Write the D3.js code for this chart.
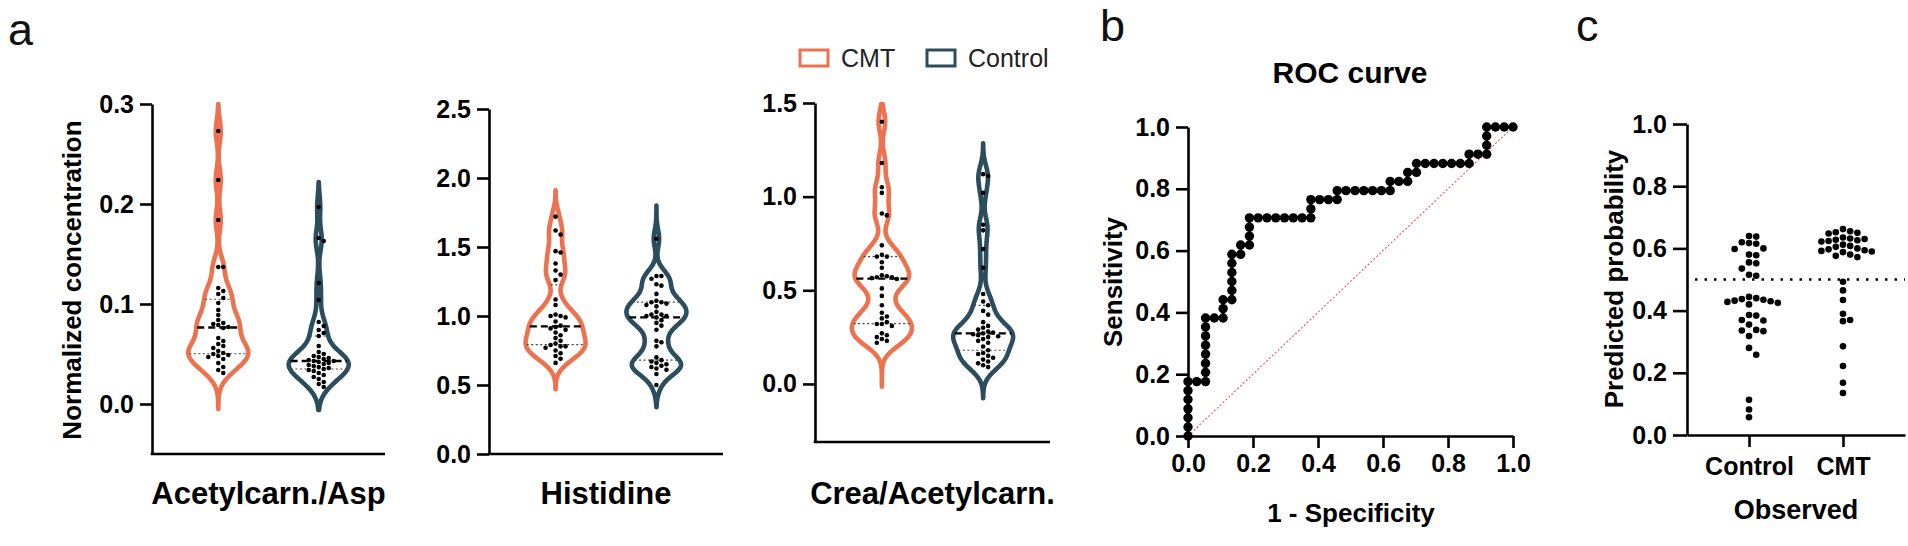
<!DOCTYPE html>
<html><head><meta charset="utf-8">
<script src="https://cdn.jsdelivr.net/npm/d3@7"></script>
<style>
body{margin:0;background:#fff;}
svg{display:block;font-family:"Liberation Sans",Arial,sans-serif;}
</style></head><body>
<svg id="chart" width="1908" height="546"></svg>
<script>
// ---------------- DATA ----------------
const groups = ["CMT", "Control"];
const metabolites = ["Acetylcarn./Asp", "Histidine", "Crea/Acetylcarn."];

const acetAspCMT = [0.273,0.224,0.184,0.137,0.137,0.116,0.113,0.110,0.106,0.101,0.094,0.089,0.084,0.081,0.080,0.079,0.077,0.076,0.066,0.063,0.060,0.058,0.056,0.053,0.051,0.050,0.049,0.048,0.047,0.045,0.041,0.037,0.034,0.031];
const acetAspControl = [0.197,0.166,0.163,0.121,0.104,0.082,0.078,0.074,0.071,0.068,0.058,0.052,0.050,0.048,0.047,0.046,0.045,0.044,0.043,0.043,0.042,0.041,0.040,0.039,0.038,0.037,0.036,0.035,0.034,0.033,0.031,0.029,0.027,0.025,0.022,0.020,0.017];
const histidineCMT = [1.72,1.62,1.59,1.47,1.46,1.38,1.33,1.30,1.26,1.12,1.08,1.01,1.00,1.00,0.99,0.96,0.93,0.92,0.91,0.90,0.88,0.86,0.84,0.82,0.80,0.79,0.78,0.78,0.77,0.75,0.73,0.71,0.69,0.66];
const histidineControl = [1.56,1.29,1.29,1.27,1.23,1.22,1.16,1.11,1.10,1.10,1.09,1.08,1.07,1.03,1.01,1.01,1.00,1.00,0.99,0.97,0.95,0.93,0.90,0.82,0.81,0.78,0.70,0.68,0.67,0.66,0.65,0.64,0.63,0.62,0.61,0.58,0.50];
const creaAcetCMT = [1.40,1.18,1.05,1.02,0.91,0.90,0.74,0.69,0.68,0.68,0.65,0.62,0.58,0.575,0.57,0.57,0.565,0.56,0.51,0.47,0.42,0.38,0.36,0.35,0.33,0.32,0.32,0.31,0.27,0.26,0.25,0.24,0.23,0.22];
const creaAcetControl = [1.12,1.11,1.02,0.85,0.82,0.72,0.62,0.48,0.44,0.42,0.39,0.37,0.33,0.31,0.30,0.29,0.28,0.275,0.27,0.265,0.26,0.255,0.25,0.24,0.23,0.22,0.20,0.18,0.165,0.16,0.15,0.14,0.13,0.12,0.11,0.10,0.09];

// violin tail ends [bottom, top] (CMT, Control)
const extentsAcetAsp = [[-0.005, 0.300], [-0.006, 0.222]];
const extentsHistidine = [[0.47, 1.91], [0.34, 1.80]];
const extentsCreaAcet = [[-0.015, 1.495], [-0.076, 1.285]];

const ticksAcetAsp = [0, 0.1, 0.2, 0.3];
const ticksHistidine = [0, 0.5, 1.0, 1.5, 2.0, 2.5];
const ticksCreaAcet = [0, 0.5, 1.0, 1.5];

const rocFPR = [0,0,0,0,0,0,0,.027,.054,.054,.054,.054,.054,.054,.054,.054,.081,.108,.108,.108,.135,.135,.135,.135,.135,.135,.162,.162,.189,.189,.189,.189,.216,.243,.270,.297,.324,.351,.378,.378,.378,.405,.432,.459,.459,.486,.514,.541,.568,.595,.622,.622,.649,.676,.676,.703,.703,.730,.757,.784,.811,.838,.865,.865,.892,.919,.919,.919,.919,.946,.973,1];
const rocTPR = [0,.029,.059,.088,.118,.147,.176,.176,.176,.206,.235,.265,.294,.324,.353,.382,.382,.382,.412,.441,.441,.471,.500,.529,.559,.588,.588,.618,.618,.647,.676,.706,.706,.706,.706,.706,.706,.706,.706,.735,.765,.765,.765,.765,.794,.794,.794,.794,.794,.794,.794,.824,.824,.824,.853,.853,.882,.882,.882,.882,.882,.882,.882,.912,.912,.912,.941,.971,1,1,1,1];
const rocTicks = [0, 0.2, 0.4, 0.6, 0.8, 1.0];
const chanceLine = [0, 1];

const observedGroups = ["Control", "CMT"];
const predControl = [0.640,0.638,0.620,0.617,0.615,0.600,0.598,0.580,0.578,0.555,0.552,0.535,0.515,0.512,0.444,0.440,0.437,0.435,0.432,0.430,0.428,0.425,0.420,0.386,0.384,0.370,0.368,0.355,0.338,0.336,0.334,0.318,0.280,0.258,0.113,0.082,0.057];
const predCMT = [0.662,0.655,0.652,0.650,0.648,0.635,0.632,0.630,0.628,0.626,0.624,0.622,0.612,0.608,0.605,0.600,0.597,0.594,0.592,0.590,0.588,0.580,0.576,0.572,0.493,0.465,0.434,0.390,0.370,0.366,0.285,0.222,0.168,0.135];
const probTicks = [0, 0.2, 0.4, 0.6, 0.8, 1.0];
const cutoff = 0.5;

// ---------------- STYLE / LAYOUT ----------------
const colors = {CMT: "#EC7250", Control: "#2B4D5E"};
const svg = d3.select("#chart");
const fmt1 = d3.format(".1f");
const TICK_FS = 25;

function styleAxis(g, fs) {
  g.selectAll("path.domain").attr("stroke", "#000").attr("stroke-width", 2.6);
  g.selectAll(".tick line").attr("stroke", "#000").attr("stroke-width", 2.6);
  g.selectAll(".tick text").attr("font-size", fs).attr("font-weight", "bold").attr("fill", "#000")
    .attr("font-family", '"Liberation Sans",Arial,sans-serif');
}

function swarm(values, y, cx, r, step) {
  const nodes = values.map(v => ({v, y: y(v)})).sort((a, b) => a.y - b.y);
  const placed = [];
  const minD = 2 * r + 0.3;
  nodes.forEach(n => {
    for (let k = 0; k < 80; k++) {
      const off = k === 0 ? 0 : (k % 2 ? 1 : -1) * Math.ceil(k / 2) * step;
      const xx = cx + off;
      if (placed.every(p => Math.hypot(p.x - xx, p.y - n.y) >= minD)) { n.x = xx; placed.push(n); break; }
    }
  });
  return nodes;
}

function gauss(u) { return Math.exp(-0.5 * u * u) / Math.sqrt(2 * Math.PI); }
function density(values, h, t) { return d3.mean(values, x => gauss((t - x) / h)) / h; }

// ---------------- PANEL a ----------------
const seriesA = [[acetAspCMT, acetAspControl], [histidineCMT, histidineControl], [creaAcetCMT, creaAcetControl]];
const extentsA = [extentsAcetAsp, extentsHistidine, extentsCreaAcet];
const layoutA = [
  {domain: [-0.05, 0.3], ticks: ticksAcetAsp, x0: 152, x1: 385, yTop: 104, yBot: 454, bw: 0.011},
  {domain: [0, 2.5], ticks: ticksHistidine, x0: 489, x1: 723, yTop: 109, yBot: 454, bw: 0.065},
  {domain: [-0.31, 1.5], ticks: ticksCreaAcet, x0: 815, x1: 1050, yTop: 103, yBot: 442, bw: 0.055}
];

layoutA.forEach((L, i) => {
  const y = d3.scaleLinear().domain(L.domain).range([L.yBot, L.yTop]);
  const x = d3.scalePoint().domain(groups).range([L.x0, L.x1]).padding(0.66);
  const gy = svg.append("g").attr("transform", `translate(${L.x0},0)`)
    .call(d3.axisLeft(y).tickValues(L.ticks).tickSize(12).tickSizeOuter(0).tickPadding(6).tickFormat(fmt1));
  styleAxis(gy, TICK_FS);
  svg.append("line").attr("x1", L.x0 - 1.3).attr("x2", L.x1).attr("y1", L.yBot).attr("y2", L.yBot)
    .attr("stroke", "#000").attr("stroke-width", 2.6);

  groups.forEach((gname, j) => {
    const vals = seriesA[i][j];
    const cx = x(gname);
    const [lo, hi] = extentsA[i][j];
    const grid = d3.range(241).map(k => lo + (hi - lo) * k / 240);
    const dens = grid.map(t => ({v: t, d: density(vals, L.bw, t)}));
    const w = d3.scaleLinear().domain([0, d3.max(dens, d => d.d)]).range([0, 30]);
    const area = d3.area().y(d => y(d.v)).x0(d => cx - w(d.d)).x1(d => cx + w(d.d)).curve(d3.curveBasis);
    svg.append("path").datum(dens).attr("d", area)
      .attr("fill", "#fff").attr("stroke", colors[gname]).attr("stroke-width", 4.6).attr("stroke-linejoin", "round");
    const sorted = vals.slice().sort(d3.ascending);
    const halfAt = v => w(density(vals, L.bw, v));
    [0.25, 0.75].forEach(q => {
      const qv = d3.quantile(sorted, q), hw = halfAt(qv) - 1;
      svg.append("line").attr("x1", cx - hw).attr("x2", cx + hw).attr("y1", y(qv)).attr("y2", y(qv))
        .attr("stroke", "#444").attr("stroke-width", 1.2).attr("stroke-dasharray", "2,2.5");
    });
    const med = d3.median(vals), mw = halfAt(med) - 1;
    svg.append("line").attr("x1", cx - mw).attr("x2", cx + mw).attr("y1", y(med)).attr("y2", y(med))
      .attr("stroke", "#000").attr("stroke-width", 2.4).attr("stroke-dasharray", "7,4");
    svg.append("g").selectAll("circle").data(swarm(vals, y, cx, 2.3, 5)).join("circle")
      .attr("cx", d => d.x).attr("cy", d => d.y).attr("r", 2.3).attr("fill", "#000");
  });

  svg.append("text").attr("x", (L.x0 + L.x1) / 2).attr("y", 504).attr("text-anchor", "middle")
    .attr("font-size", 31).attr("font-weight", "bold").text(metabolites[i]);
});

svg.append("text").attr("transform", "translate(81,280) rotate(-90)").attr("text-anchor", "middle")
  .attr("font-size", 26).attr("font-weight", "bold").text("Normalized concentration");

// legend
const legendX = [800, 927];
groups.forEach((gname, j) => {
  svg.append("rect").attr("x", legendX[j]).attr("y", 50).attr("width", 28).attr("height", 16)
    .attr("fill", "none").attr("stroke", colors[gname]).attr("stroke-width", 3);
  svg.append("text").attr("x", legendX[j] + 41).attr("y", 67).attr("font-size", 25).attr("fill", "#222").text(gname);
});

// panel letters
[["a", 8, 45], ["b", 1100, 41], ["c", 1576, 41]].forEach(([t, x, yy]) => {
  svg.append("text").attr("x", x).attr("y", yy).attr("font-size", 45).attr("fill", "#111").text(t);
});

// ---------------- PANEL b: ROC ----------------
const xr = d3.scaleLinear().domain([0, 1]).range([1188, 1513]);
const yr = d3.scaleLinear().domain([0, 1]).range([436, 127]);
styleAxis(svg.append("g").attr("transform", "translate(0,436)")
  .call(d3.axisBottom(xr).tickValues(rocTicks).tickSize(12).tickSizeOuter(0).tickPadding(6).tickFormat(fmt1)), TICK_FS);
styleAxis(svg.append("g").attr("transform", "translate(1188,0)")
  .call(d3.axisLeft(yr).tickValues(rocTicks).tickSize(12).tickSizeOuter(0).tickPadding(6).tickFormat(fmt1)), TICK_FS);

svg.append("line").attr("x1", xr(chanceLine[0])).attr("y1", yr(chanceLine[0])).attr("x2", xr(chanceLine[1])).attr("y2", yr(chanceLine[1]))
  .attr("stroke", "#E8565A").attr("stroke-width", 1.1).attr("stroke-dasharray", "2,2");
const rocPts = rocFPR.map((f, k) => [f, rocTPR[k]]);
svg.append("path").datum(rocPts).attr("d", d3.line().x(d => xr(d[0])).y(d => yr(d[1])))
  .attr("fill", "none").attr("stroke", "#000").attr("stroke-width", 2.5);
svg.append("g").selectAll("circle").data(rocPts).join("circle")
  .attr("cx", d => xr(d[0])).attr("cy", d => yr(d[1])).attr("r", 4.7).attr("fill", "#000");

svg.append("text").attr("x", 1350).attr("y", 83).attr("text-anchor", "middle")
  .attr("font-size", 30).attr("font-weight", "bold").text("ROC curve");
svg.append("text").attr("x", 1351).attr("y", 522).attr("text-anchor", "middle")
  .attr("font-size", 26).attr("font-weight", "bold").text("1 - Specificity");
svg.append("text").attr("transform", "translate(1122,282) rotate(-90)").attr("text-anchor", "middle")
  .attr("font-size", 26).attr("font-weight", "bold").text("Sensitivity");

// ---------------- PANEL c ----------------
const yc = d3.scaleLinear().domain([0, 1]).range([435, 124]);
const xc = d3.scalePoint().domain(observedGroups).range([1687, 1905]).padding(0.66);
styleAxis(svg.append("g").attr("transform", "translate(1687,0)")
  .call(d3.axisLeft(yc).tickValues(probTicks).tickSize(14).tickSizeOuter(0).tickPadding(6).tickFormat(fmt1)), TICK_FS);
styleAxis(svg.append("g").attr("transform", "translate(0,435)")
  .call(d3.axisBottom(xc).tickSize(12).tickSizeOuter(0).tickPadding(10)), TICK_FS);

svg.append("line").attr("x1", 1695).attr("x2", 1905).attr("y1", yc(cutoff)).attr("y2", yc(cutoff))
  .attr("stroke", "#000").attr("stroke-width", 2.6).attr("stroke-dasharray", "2.5,7");

[[predControl, "Control"], [predCMT, "CMT"]].forEach(([vals, gname]) => {
  svg.append("g").selectAll("circle").data(swarm(vals, yc, xc(gname), 3.3, 7.2)).join("circle")
    .attr("cx", d => d.x).attr("cy", d => d.y).attr("r", 3.3).attr("fill", "#000");
});

svg.append("text").attr("transform", "translate(1623,279) rotate(-90)").attr("text-anchor", "middle")
  .attr("font-size", 26).attr("font-weight", "bold").text("Predicted probability");
svg.append("text").attr("x", 1796).attr("y", 519).attr("text-anchor", "middle")
  .attr("font-size", 27).attr("font-weight", "bold").text("Observed");
</script>
</body></html>
